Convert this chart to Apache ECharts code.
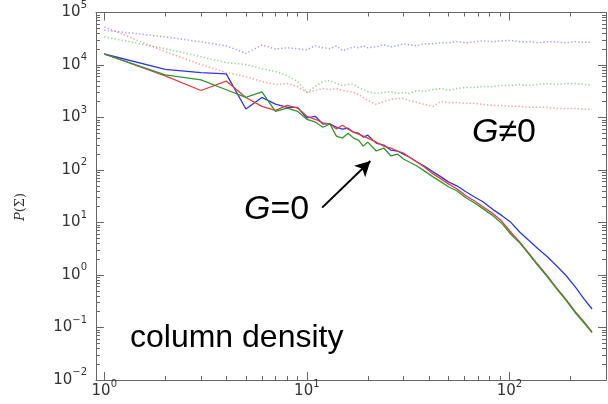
<!DOCTYPE html>
<html>
<head>
<meta charset="utf-8">
<script src="https://cdn.jsdelivr.net/npm/echarts@6/dist/echarts.min.js"></script>
<style>
  html, body { margin: 0; padding: 0; background: #fff; }
  #chart { width: 608px; height: 404px; }
</style>
</head>
<body>
<div id="chart"></div>
<script>
// column density bins (x) shared by all six curves
const columnDensity = [1, 2, 3, 4, 5, 6, 7, 8, 9, 10, 11, 12, 13, 14, 15, 16, 17, 18, 19, 20,
  22, 24, 26, 28, 30, 32, 35, 38, 42, 46, 50, 55, 61, 67, 74, 83, 92, 102, 113, 125,
  138, 153, 170, 190, 212, 234, 256]

// G=0 runs (solid)
const blueG0 = [16200, 8280, 7170, 6780, 1450, 2410, 1800, 1560, 1560, 979, 1055, 754, 754, 653, 598, 625, 525, 503, 423, 461,
  325, 298, 240, 230, 201, 177, 142, 119, 92, 74, 59.5, 50, 38.5, 31, 24.9, 17.6, 13.5, 9.97, 6.45, 4.55,
  3.21, 2.27, 1.53, 0.99, 0.588, 0.348, 0.225]
const redG0 = [16200, 6210, 3270, 4950, 2410, 1630, 1370, 1700, 1510, 1055, 925, 788, 754, 606, 713, 598, 525, 481, 441, 405,
  340, 285, 262, 230, 210, 177, 142, 114, 84.3, 67.8, 54.5, 43.9, 32.3, 26, 20, 14.8, 10.4, 6.45, 4.17, 2.58,
  1.6, 0.99, 0.588, 0.348, 0.198, 0.128, 0.0828]
const greenG0 = [16200, 6490, 5220, 3375, 2410, 3067, 1312, 1510, 1312, 925, 823, 653, 754, 441, 405, 503, 405, 371, 285, 340,
  230, 262, 185, 201, 162, 142, 119, 96.1, 74, 59.5, 47.9, 40.2, 29.6, 23.8, 18.4, 13.5, 9.52, 5.91, 4, 2.47,
  1.53, 0.949, 0.563, 0.334, 0.189, 0.122, 0.0803]

// G!=0 runs (dotted)
const blueG = [46000, 34400, 27700, 23200, 16600, 24000, 20100, 21300, 20400, 19500, 23200, 21300, 20400, 23200, 18700, 20400, 22200, 21300, 23200, 21300,
  22200, 24300, 22200, 23200, 25400, 24300, 23200, 25400, 25400, 26500, 26500, 27700, 26500, 27700, 28900, 27700, 28900, 29500, 27700, 27700,
  26500, 27700, 27700, 26500, 27700, 27100, 27100]
const greenG = [34400, 20400, 14400, 11100, 10200, 8530, 7490, 6290, 4840, 3000, 3900, 4840, 5060, 4440, 4070, 4250, 4250, 3730, 3420, 3130,
  2870, 3000, 3130, 2870, 3000, 2870, 3270, 3130, 3420, 3570, 3270, 3570, 3730, 3730, 3900, 3900, 4070, 4070, 4250, 4070,
  4250, 4440, 4250, 4440, 4440, 4250, 4070]
const redG = [53200, 17900, 10200, 7170, 6020, 4840, 4250, 4440, 3900, 3000, 3270, 3570, 3420, 3570, 3270, 3130, 3000, 2750, 2410, 2120,
  1780, 2030, 2210, 2310, 2310, 2120, 1940, 1780, 1630, 2030, 1940, 1940, 1860, 1860, 1780, 1700, 1700, 1630, 1630, 1560,
  1560, 1560, 1490, 1490, 1490, 1430, 1430]

// ticks
const xMajor = [1, 10, 100]
const xMinor = [2, 3, 4, 5, 6, 7, 8, 9, 20, 30, 40, 50, 60, 70, 80, 90, 200, 300]
const yMajor = [0.01, 0.1, 1, 10, 100, 1000, 10000, 100000]
const yMinor = []
yMajor.slice(0, -1).forEach(d => { for (let k = 2; k < 10; k++) yMinor.push(+(d * k).toPrecision(3)) })

const frameColor = '#666'
const labelColor = '#333'

function pow10Label(v) {
  const e = Math.round(Math.log10(v))
  return '{b|10}{s|' + (e < 0 ? '\u2212' + (-e) : e) + '}'
}
const labelRich = {
  b: { fontSize: 15, fontFamily: 'DejaVu Sans', color: labelColor, lineHeight: 17 },
  s: { fontSize: 10, fontFamily: 'DejaVu Sans', color: labelColor, lineHeight: 10, padding: [0, 0, 15, 0] }
}

function logAxis(dim, position, ticks, len, withLine, withLabels) {
  const ax = {
    type: 'log',
    position: position,
    min: dim === 'x' ? 0.91 : 0.01,
    max: dim === 'x' ? 300 : 100000,
    splitLine: { show: false },
    axisLine: { show: withLine, onZero: false, lineStyle: { color: frameColor, width: 1 } },
    axisTick: { show: true, inside: true, length: len, customValues: ticks, lineStyle: { color: frameColor, width: 1 } },
    axisLabel: { show: false }
  }
  if (withLabels) {
    ax.axisLabel = {
      show: true,
      customValues: ticks,
      margin: dim === 'x' ? 3 : 9,
      formatter: pow10Label,
      rich: labelRich
    }
  }
  return ax
}

function makeSeries(name, values, color, dotted) {
  return {
    name: name,
    type: 'line',
    data: columnDensity.map((x, i) => [x, values[i]]),
    showSymbol: false,
    symbol: 'none',
    silent: true,
    lineStyle: dotted
      ? { color: color, width: 1.5, type: [1.3, 2.2], opacity: 0.5 }
      : { color: color, width: 1.3 },
    z: dotted ? 2 : 3
  }
}

const chart = echarts.init(document.getElementById('chart'), null, { renderer: 'canvas' })

chart.setOption({
  animation: false,
  backgroundColor: '#fff',
  grid: { left: 96, right: 2, top: 10, bottom: 24 },
  xAxis: [
    logAxis('x', 'bottom', xMajor, 8, true, true),
    logAxis('x', 'bottom', xMinor, 4, false, false),
    logAxis('x', 'top', xMajor, 8, true, false),
    logAxis('x', 'top', xMinor, 4, false, false)
  ],
  yAxis: [
    logAxis('y', 'left', yMajor, 8, true, true),
    logAxis('y', 'left', yMinor, 4, false, false),
    logAxis('y', 'right', yMajor, 8, true, false),
    logAxis('y', 'right', yMinor, 4, false, false)
  ],
  series: [
    makeSeries('blue G!=0', blueG, '#4040f0', true),
    makeSeries('green G!=0', greenG, '#30a030', true),
    makeSeries('red G!=0', redG, '#f04040', true),
    Object.assign(makeSeries('blue G=0', blueG0, '#2e36e6', false), {
      markLine: {
        silent: true,
        symbol: ['none', 'arrow'],
        symbolSize: [12, 15],
        label: { show: false },
        lineStyle: { color: '#000', width: 2, type: 'solid' },
        data: [[{ coord: [11.9, 19.2] }, { coord: [20.6, 148] }]]
      }
    }),
    makeSeries('red G=0', redG0, '#e83c3c', false),
    makeSeries('green G=0', greenG0, '#2e962e', false)
  ],
  graphic: [
    {
      type: 'text', x: 21, y: 207, rotation: Math.PI / 2,
      style: {
        text: '{i|P}(\u03a3)', fill: '#333', align: 'center', verticalAlign: 'middle',
        font: '13px DejaVu Serif',
        rich: { i: { fontStyle: 'italic', fontFamily: 'DejaVu Serif', fontSize: 13, fill: '#333' } }
      }
    },
    {
      type: 'text', x: 472, y: 133,
      style: {
        text: '{i|G}\u22600', fill: '#000', align: 'left', verticalAlign: 'middle',
        font: '34px Liberation Sans',
        rich: { i: { fontStyle: 'italic', fontFamily: 'Liberation Sans', fontSize: 34 } }
      }
    },
    {
      type: 'text', x: 244, y: 210,
      style: {
        text: '{i|G}=0', fill: '#000', align: 'left', verticalAlign: 'middle',
        font: '34px Liberation Sans',
        rich: { i: { fontStyle: 'italic', fontFamily: 'Liberation Sans', fontSize: 34 } }
      }
    },
    {
      type: 'text', x: 130, y: 338,
      style: {
        text: 'column density', fill: '#000', align: 'left', verticalAlign: 'middle',
        font: '32px Liberation Sans'
      }
    }
  ]
})
</script>
</body>
</html>
